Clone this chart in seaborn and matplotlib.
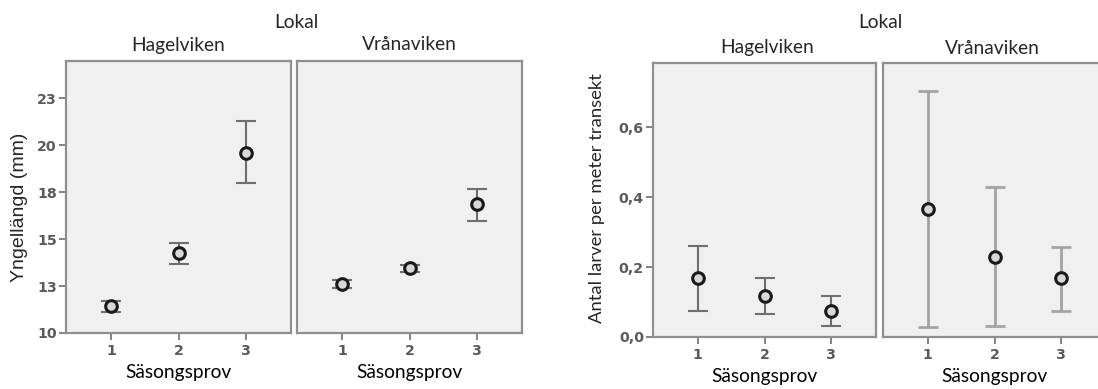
import matplotlib
matplotlib.use("Agg")
import matplotlib.pyplot as plt
import seaborn as sns
import pandas as pd

sns.set_theme(style="white")
plt.rcParams["font.family"] = ["Lato", "DejaVu Sans"]

# Season samples
samples = [1, 2, 3]
locations = ["Hagelviken", "Vrånaviken"]

# Fry length (mm): mean and 95 % CI limits per location
length_mean = {"Hagelviken": [11.43, 14.24, 19.59], "Vrånaviken": [12.60, 13.44, 16.86]}
length_low = {"Hagelviken": [11.12, 13.67, 17.96], "Vrånaviken": [12.40, 13.24, 15.97]}
length_high = {"Hagelviken": [11.72, 14.80, 21.28], "Vrånaviken": [12.80, 13.64, 17.64]}

# Larvae per meter transect: mean and 95 % CI limits per location
larvae_mean = {"Hagelviken": [0.168, 0.117, 0.074], "Vrånaviken": [0.365, 0.229, 0.168]}
larvae_low = {"Hagelviken": [0.074, 0.065, 0.031], "Vrånaviken": [0.028, 0.031, 0.074]}
larvae_high = {"Hagelviken": [0.261, 0.169, 0.118], "Vrånaviken": [0.703, 0.428, 0.258]}

length_ticks = [10, 12.5, 15, 17.5, 20, 22.5]
length_ticklabels = ["10", "13", "15", "18", "20", "23"]
larvae_ticks = [0.0, 0.2, 0.4, 0.6]
larvae_ticklabels = ["0,0", "0,2", "0,4", "0,6"]

W, H = 1098, 389
fig = plt.figure(figsize=(W / 100, H / 100), dpi=100)
fig.patch.set_facecolor("white")


def px_axes(x0, x1, y0, y1):
    return fig.add_axes([x0 / W, 1 - y1 / H, (x1 - x0) / W, (y1 - y0) / H])


def px_text(x, y, s, **kw):
    fig.text(x / W, 1 - y / H, s, ha="center", va="center", **kw)


PANEL_BG = "#f0f0f0"
EDGE = "#8f8f8f"
TICK_COL = "#5a5a5a"
TEXT_FONT = 13.8
TICK_FONT = {"family": "DejaVu Sans", "weight": "bold", "size": 10.2, "color": TICK_COL}


def style_panel(ax, ylim, yticks, yticklabels, show_y):
    ax.set_facecolor(PANEL_BG)
    ax.set_xlim(0.33, 3.67)
    ax.set_ylim(*ylim)
    ax.set_xticks(samples)
    ax.set_xticklabels([str(s) for s in samples], fontdict=TICK_FONT)
    for s in ax.spines.values():
        s.set_visible(True)
        s.set_color(EDGE)
        s.set_linewidth(1.6)
    ax.tick_params(axis="x", bottom=True, length=5, width=1.3, color="#7a7a7a", pad=3)
    if show_y:
        ax.set_yticks(yticks)
        ax.set_yticklabels(yticklabels, fontdict=TICK_FONT)
        ax.tick_params(axis="y", left=True, length=5, width=1.3, color="#7a7a7a", pad=1.5)
    else:
        ax.set_yticks([])
    ax.set_xlabel("Säsongsprov", fontsize=TEXT_FONT, color="black", labelpad=4)
    ax.set_ylabel("")


def draw(ax, mean, low, high, bar_col, bar_lw):
    df = pd.DataFrame({"Säsongsprov": samples, "mean": mean, "low": low, "high": high})
    err = [df["mean"] - df["low"], df["high"] - df["mean"]]
    ax.errorbar(df["Säsongsprov"], df["mean"], yerr=err, fmt="none",
                ecolor=bar_col, elinewidth=bar_lw, capsize=7.2, capthick=bar_lw, zorder=2)
    sns.scatterplot(data=df, x="Säsongsprov", y="mean", ax=ax, s=70, marker="o",
                    facecolor="#d8d8d8", edgecolor="#1a1a1a", linewidth=2.2, zorder=3,
                    legend=False)


# Left chart: fry length
left_boxes = [(66, 291), (297, 522)]
for i, (loc, (x0, x1)) in enumerate(zip(locations, left_boxes)):
    ax = px_axes(x0, x1, 61, 333)
    draw(ax, length_mean[loc], length_low[loc], length_high[loc], "#6e6e6e", 1.5)
    style_panel(ax, (10, 24.47), length_ticks, length_ticklabels, show_y=(i == 0))
    px_text((x0 + x1) / 2, 45, loc, fontsize=TEXT_FONT)

fig.text(20 / W, 1 - 207 / H, "Yngellängd (mm)", rotation=90, ha="center", va="center",
         fontsize=14, family="Liberation Sans")
px_text(296, 22, "Lokal", fontsize=TEXT_FONT)

# Right chart: larvae per meter transect
right_boxes = [(653, 876), (883, 1106)]
bar_styles = {"Hagelviken": ("#6e6e6e", 1.5), "Vrånaviken": ("#a3a3a3", 2.0)}
for i, (loc, (x0, x1)) in enumerate(zip(locations, right_boxes)):
    ax = px_axes(x0, x1, 63, 337)
    col, lw = bar_styles[loc]
    draw(ax, larvae_mean[loc], larvae_low[loc], larvae_high[loc], col, lw)
    style_panel(ax, (0, 0.783), larvae_ticks, larvae_ticklabels, show_y=(i == 0))

px_text(597, 198, "Antal larver per meter transekt", rotation=90, fontsize=13.3)
px_text(767, 48, "Hagelviken", fontsize=TEXT_FONT)
px_text(992, 48, "Vrånaviken", fontsize=TEXT_FONT)
px_text(880, 23, "Lokal", fontsize=TEXT_FONT)

fig.savefig("out.png", dpi=100)
